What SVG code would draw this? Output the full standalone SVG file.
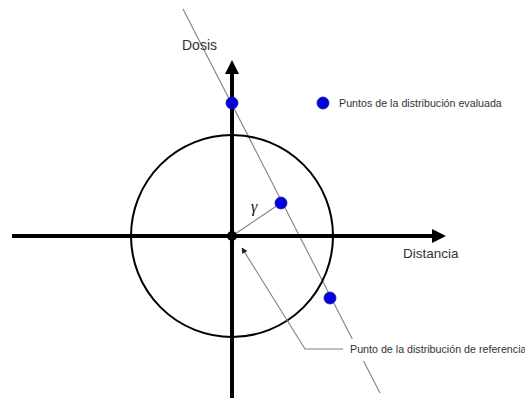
<svg xmlns="http://www.w3.org/2000/svg" width="525" height="398" viewBox="0 0 525 398">
<style>
.axis{stroke:#000;stroke-width:4;fill:none}
.thin{stroke:#808080;stroke-width:1.1;fill:none}
.lbl{font-family:"Liberation Sans",Arial,sans-serif;fill:#333}
.pt{fill:#0000e0;stroke:#1a1a8a;stroke-width:0.8}
</style>
<defs>
<marker id="ah" viewBox="0 0 10 10" refX="9" refY="5" markerWidth="6" markerHeight="6" markerUnits="userSpaceOnUse" orient="auto"><path d="M0,0 L10,5 L0,10 z" fill="#222"/></marker>
</defs>
<rect width="525" height="398" fill="#fff"/>
<g id="connectors">
<line class="thin" x1="183" y1="9" x2="380" y2="393"/>
<circle cx="232" cy="236" r="101" fill="none" stroke="#000" stroke-width="2"/>
<line class="axis" x1="12" y1="236" x2="434" y2="236"/>
<polygon points="432,229 446,236 432,243" fill="#000"/>
<line class="axis" x1="232" y1="398" x2="232" y2="72"/>
<polygon points="225,74 232,60 239,74" fill="#000"/>
<line class="thin" x1="232" y1="236" x2="281" y2="203"/>
<polyline class="thin" points="343,349 305,349 242,248" marker-end="url(#ah)"/>
</g>
<g id="center"><circle cx="232" cy="236" r="5" fill="#000"/></g>
<g id="p1"><circle class="pt" cx="232" cy="103" r="6"/></g>
<g id="p2"><circle class="pt" cx="281" cy="203" r="6"/></g>
<g id="p3"><circle class="pt" cx="330" cy="298" r="6"/></g>
<g id="gamma"><text x="251" y="212" font-family="'Liberation Serif',serif" font-style="italic" font-size="16" fill="#111">γ</text></g>
<g id="dosis"><text class="lbl" x="182" y="50" font-size="14">Dosis</text></g>
<g id="distancia"><text class="lbl" x="403" y="258" font-size="13.5">Distancia</text></g>
<g id="legend">
<circle class="pt" cx="323" cy="103" r="6"/>
<text class="lbl" x="339" y="107" font-size="10.7">Puntos de la distribución evaluada</text>
</g>
<g id="reflabel">
<rect x="346" y="339" width="179" height="22" fill="#fff"/>
<text class="lbl" x="350" y="352.5" font-size="10.7">Punto de la distribución de referencia</text>
</g>
</svg>
